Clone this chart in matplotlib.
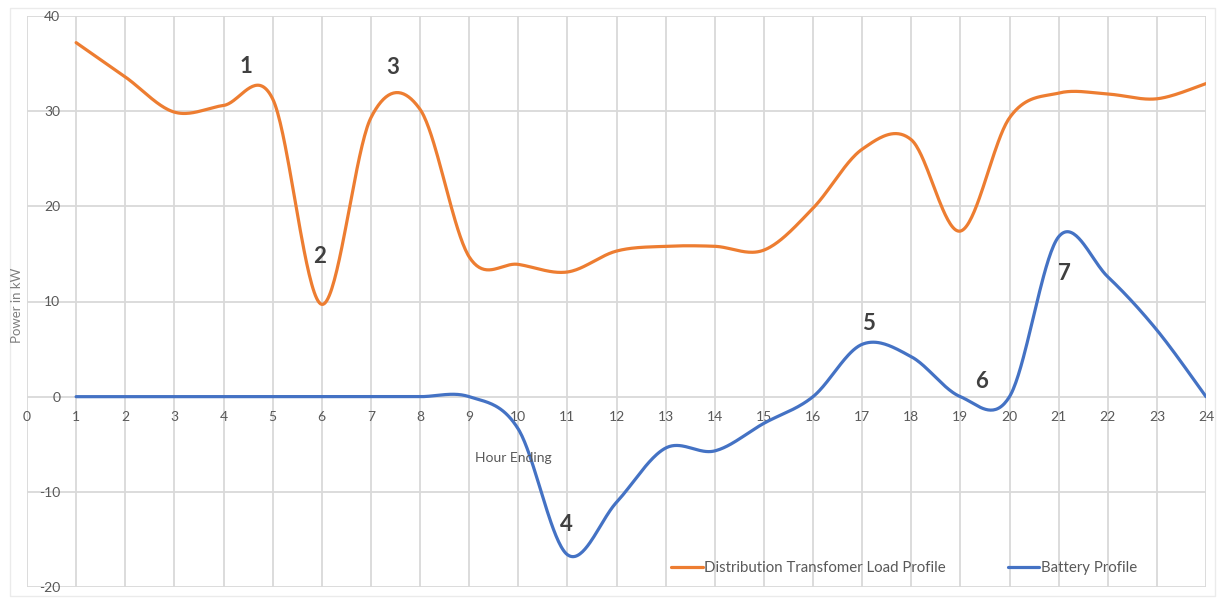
import numpy as np
import matplotlib
matplotlib.use('Agg')
import matplotlib.pyplot as plt
from matplotlib.patches import Rectangle

plt.rcParams['font.family'] = ['Lato', 'DejaVu Sans']
plt.rcParams['axes.unicode_minus'] = False

# Hourly values
hours = list(range(1, 25))
load_profile = [37.2, 33.6, 29.9, 30.6, 31.3, 9.7, 29.3, 30.2, 14.7, 13.9, 13.1, 15.3,
                15.8, 15.8, 15.4, 19.8, 26.0, 27.0, 17.4, 29.3, 31.9, 31.8, 31.3, 32.9]
battery_profile = [0, 0, 0, 0, 0, 0, 0, 0, 0, -3.4, -16.6, -11.1,
                   -5.4, -5.7, -2.8, 0, 5.5, 4.2, 0, 0, 16.8, 12.6, 7.0, 0]

# point labels (number, hour, kW)
marker_ids = ['1', '2', '3', '4', '5', '6', '7']
marker_x = [4.46, 5.95, 7.45, 10.99, 17.13, 19.43, 21.12]
marker_y = [34.7, 14.7, 34.6, -13.4, 7.7, 1.6, 12.9]

ORANGE = '#ED7D31'
BLUE = '#4472C4'
GRID = '#d9d9d9'
TEXT = '#595959'


def smooth(xs, ys, n=40):
    # Excel style smoothed line: cubic bezier through each point
    xs = np.asarray(xs, float)
    ys = np.asarray(ys, float)
    px = np.concatenate([[xs[0]], xs, [xs[-1]]])
    py = np.concatenate([[ys[0]], ys, [ys[-1]]])
    t = np.linspace(0, 1, n)[:, None]
    out_x, out_y = [], []
    for i in range(1, len(px) - 2):
        p0 = np.array([px[i], py[i]])
        p3 = np.array([px[i + 1], py[i + 1]])
        c1 = p0 + (np.array([px[i + 1], py[i + 1]]) - np.array([px[i - 1], py[i - 1]])) / 6
        c2 = p3 - (np.array([px[i + 2], py[i + 2]]) - np.array([px[i], py[i]])) / 6
        b = ((1 - t) ** 3) * p0 + 3 * ((1 - t) ** 2) * t * c1 + 3 * (1 - t) * t ** 2 * c2 + t ** 3 * p3
        out_x.append(b[:, 0])
        out_y.append(b[:, 1])
    return np.concatenate(out_x), np.concatenate(out_y)


fig = plt.figure(figsize=(12.2, 6.13), dpi=100)
fig.patches.append(Rectangle((10 / 1220, 1 - 596 / 613), 1205 / 1220, 588 / 613,
                             transform=fig.transFigure, fill=False,
                             edgecolor='#ebebeb', linewidth=1))
ax = fig.add_axes([27 / 1220, 1 - 587 / 613, 1179 / 1220, 571 / 613])

lx, ly = smooth(hours, load_profile)
bx, by = smooth(hours, battery_profile)
ax.plot(lx, ly, color=ORANGE, linewidth=2.3, label='Distribution Transfomer Load Profile',
        solid_capstyle='round')
ax.plot(bx, by, color=BLUE, linewidth=2.3, label='Battery Profile', solid_capstyle='round')

ax.set_xlim(0, 24)
ax.set_ylim(-20, 40)
ax.set_xticks(range(0, 25))
ax.set_yticks(range(-20, 41, 10))
ax.grid(True, color=GRID, linewidth=1.3)
ax.set_axisbelow(True)

for side in ['top', 'right', 'left']:
    ax.spines[side].set_visible(False)
ax.spines['bottom'].set_position(('data', 0))
ax.spines['bottom'].set_visible(False)

ax.tick_params(axis='x', length=0, pad=10, labelsize=10, labelcolor=TEXT)
ax.tick_params(axis='y', length=0, pad=-24, labelsize=10, labelcolor=TEXT)

for lab, x, y in zip(marker_ids, marker_x, marker_y):
    ax.text(x, y, lab, fontsize=16, fontweight='bold', color='#404040',
            ha='center', va='center')

ax.text(9.89, -6.4, 'Hour Ending', fontsize=10, color=TEXT, ha='center', va='center')
fig.text(17 / 1220, 1 - 305 / 613, 'Power in kW', fontsize=9.5, color='#7f7f7f',
         rotation=90, ha='center', va='center')

leg = ax.legend(loc='center', bbox_to_anchor=(0.744, 0.033), ncol=2, frameon=False,
                fontsize=10.8, handlelength=2.1, handletextpad=0.1, columnspacing=4.1)
for t in leg.get_texts():
    t.set_color(TEXT)

fig.savefig('out.png', dpi=100)
